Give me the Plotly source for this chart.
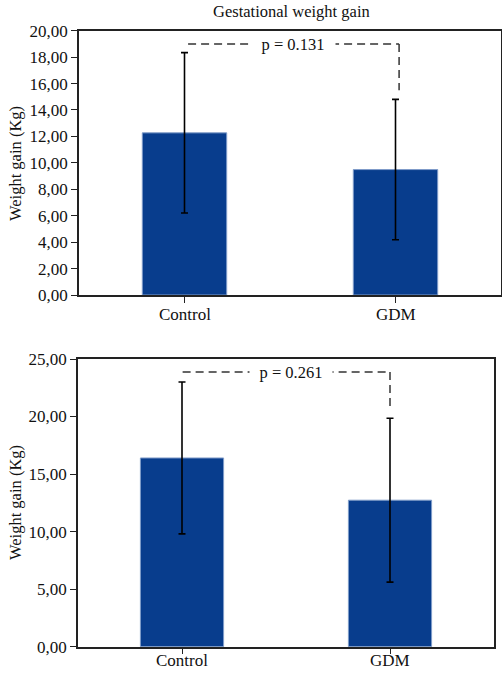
import plotly.graph_objects as go

# ---- data ----
categories = ["Control", "GDM"]
top_means = [12.27, 9.49]
top_sd = [6.07, 5.31]
bottom_means = [16.40, 12.73]
bottom_sd = [6.60, 7.12]
top_p_label = "p = 0.131"
bottom_p_label = "p = 0.261"
top_bracket_y = 19.0
top_bracket_drop = 15.5
bottom_bracket_y = 23.87
bottom_bracket_drop = 20.7
top_ticks = [0, 2, 4, 6, 8, 10, 12, 14, 16, 18, 20]
bottom_ticks = [0, 5, 10, 15, 20, 25]

W, H = 502, 673
FONT = "Liberation Serif"
BAR = "#083d8d"
EDGE = "#7f9cc9"

fig = go.Figure()
fig.add_trace(go.Bar(
    x=categories, y=top_means, width=0.40,
    marker=dict(color=BAR, line=dict(color=EDGE, width=1)),
    error_y=dict(type="data", array=top_sd, color="black", thickness=1.6, width=3.5),
    xaxis="x", yaxis="y", showlegend=False))
fig.add_trace(go.Bar(
    x=categories, y=bottom_means, width=0.40,
    marker=dict(color=BAR, line=dict(color=EDGE, width=1)),
    error_y=dict(type="data", array=bottom_sd, color="black", thickness=1.6, width=3.5),
    xaxis="x2", yaxis="y2", showlegend=False))

axis_common = dict(showline=True, mirror=True, linecolor="#222", linewidth=1.5,
                   showgrid=False, zeroline=False, ticks="outside", ticklen=6,
                   tickcolor="#222", tickwidth=1.2, automargin=False,
                   tickfont=dict(family=FONT, size=17, color="#111"))

fig.update_layout(
    width=W, height=H, margin=dict(l=0, r=0, t=0, b=0),
    paper_bgcolor="white", plot_bgcolor="white",
    separators=",.", bargap=0.6,
    font=dict(family=FONT, size=16, color="#111"),
    xaxis=dict(domain=[79 / W, 501 / W], range=[-0.5, 1.5], anchor="y",
               showticklabels=False, **axis_common),
    yaxis=dict(domain=[1 - 295 / H, 1 - 30.7 / H], range=[0, 20], tickvals=top_ticks,
               tickformat=".2f", anchor="x", **axis_common),
    xaxis2=dict(domain=[78 / W, 494 / W], range=[-0.5, 1.5], anchor="y2",
                showticklabels=False, **axis_common),
    yaxis2=dict(domain=[1 - 646.7 / H, 1 - 359 / H], range=[0, 25], tickvals=bottom_ticks,
                tickformat=".2f", anchor="x2", **axis_common),
)

# category labels
for c in categories:
    fig.add_annotation(x=c, y=0, xref="x", yref="y", text=c, showarrow=False,
                       xanchor="center", yanchor="top", yshift=-8,
                       font=dict(family=FONT, size=17, color="#111"))
    fig.add_annotation(x=c, y=0, xref="x2", yref="y2", text=c, showarrow=False,
                       xanchor="center", yanchor="top", yshift=-2,
                       font=dict(family=FONT, size=17, color="#111"))

dash = dict(color="#333", width=1.5, dash="8px,5px")
# top bracket
fig.add_shape(type="line", xref="x", yref="y", x0=0.017, x1=1.017,
              y0=top_bracket_y, y1=top_bracket_y, line=dash)
fig.add_shape(type="line", xref="x", yref="y", x0=1.017, x1=1.017,
              y0=top_bracket_y, y1=top_bracket_drop, line=dash)
# bottom bracket
fig.add_shape(type="line", xref="x2", yref="y2", x0=0.003, x1=1.0,
              y0=bottom_bracket_y, y1=bottom_bracket_y, line=dash)
fig.add_shape(type="line", xref="x2", yref="y2", x0=1.0, x1=1.0,
              y0=bottom_bracket_y, y1=bottom_bracket_drop, line=dash)

fig.add_annotation(x=0.514, y=top_bracket_y, xref="x", yref="y", text=top_p_label,
                   showarrow=False, bgcolor="white", borderpad=0,
                   font=dict(family=FONT, size=16.5, color="#111"),
                   width=84, height=20)
fig.add_annotation(x=0.524, y=bottom_bracket_y, xref="x2", yref="y2", text=bottom_p_label,
                   showarrow=False, bgcolor="white", borderpad=0,
                   font=dict(family=FONT, size=16.5, color="#111"),
                   width=82, height=20)

# title
fig.add_annotation(x=291 / W, y=1, xref="paper", yref="paper",
                   xanchor="center", yanchor="top",
                   text="Gestational weight gain", showarrow=False,
                   font=dict(family=FONT, size=16.5, color="#111"))
# y-axis titles
fig.add_annotation(x=15 / W, y=1 - 164 / H, xref="paper", yref="paper",
                   xanchor="center", yanchor="middle",
                   text="Weight gain (Kg)", textangle=-90, showarrow=False,
                   font=dict(family=FONT, size=16.5, color="#111"))
fig.add_annotation(x=15 / W, y=1 - 503 / H, xref="paper", yref="paper",
                   xanchor="center", yanchor="middle",
                   text="Weight gain (Kg)", textangle=-90, showarrow=False,
                   font=dict(family=FONT, size=16.5, color="#111"))

fig.write_html("out.html", config={"displayModeBar": False},
               post_script="document.body.style.margin='0px';"
                           "document.body.style.overflow='hidden';")
